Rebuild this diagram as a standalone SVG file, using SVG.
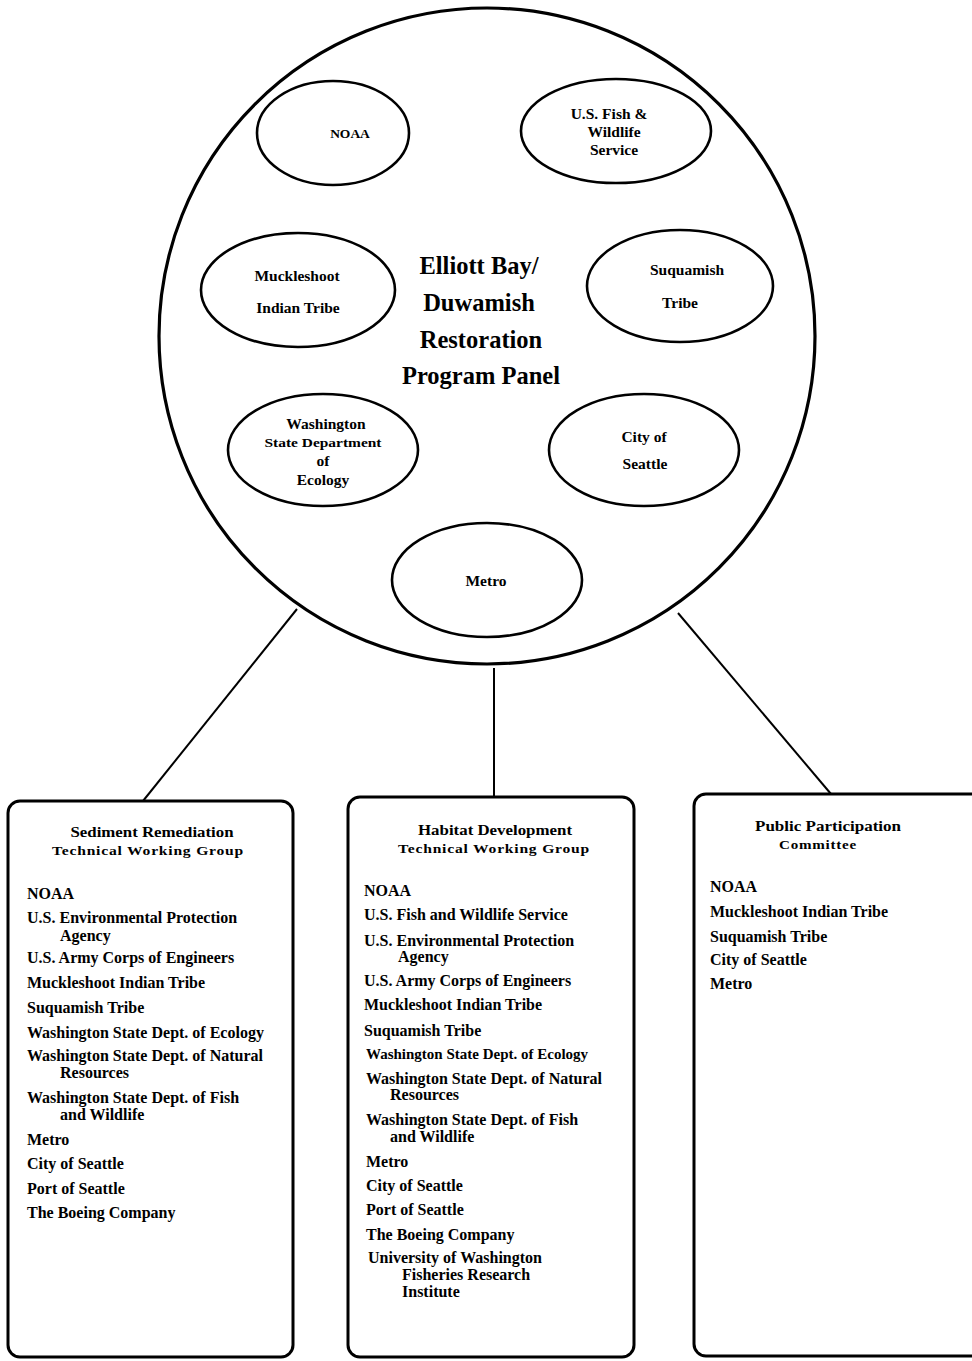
<svg xmlns="http://www.w3.org/2000/svg" width="972" height="1361" viewBox="0 0 972 1361">
<style>
.bg{fill:#fff}
.shape{fill:none;stroke:#000}
.big{stroke-width:3.2}
.ell{stroke-width:2.6}
.box{stroke-width:3}
.conn{stroke:#000;stroke-width:2;fill:none}
text{font-family:"Liberation Serif","Times New Roman",serif;font-weight:bold;fill:#000}
.title{font-size:24.5px;text-anchor:middle}
.et{font-size:15.5px;text-anchor:middle}
.hd{font-size:14px;text-anchor:middle}
.sub{font-size:12px;text-anchor:middle;letter-spacing:0.6px}
.it{font-size:16px}
</style>
<rect class="bg" x="0" y="0" width="972" height="1361"/>
<g id="connectors">
<line class="conn" x1="297" y1="609" x2="143" y2="801"/>
<line class="conn" x1="494" y1="668" x2="494" y2="797"/>
<line class="conn" x1="678" y1="613" x2="831" y2="794"/>
</g>
<g id="panel">
<circle class="shape big" cx="487" cy="336" r="328"/>
<text class="title" x="479" y="274">Elliott Bay/</text>
<text class="title" x="479" y="311">Duwamish</text>
<text class="title" x="481" y="348">Restoration</text>
<text class="title" x="481" y="384">Program Panel</text>
</g>
<g id="noaa">
<ellipse class="shape ell" cx="333" cy="133" rx="76" ry="52"/>
<text class="et" x="350" y="138" style="font-size:13.5px">NOAA</text>
</g>
<g id="usfws">
<ellipse class="shape ell" cx="616" cy="131" rx="95" ry="52"/>
<text class="et" x="609" y="119">U.S. Fish &amp;</text>
<text class="et" x="614" y="137">Wildlife</text>
<text class="et" x="614" y="155">Service</text>
</g>
<g id="muckleshoot">
<ellipse class="shape ell" cx="298" cy="290" rx="97" ry="57"/>
<text class="et" x="297" y="281">Muckleshoot</text>
<text class="et" x="298" y="313">Indian Tribe</text>
</g>
<g id="suquamish">
<ellipse class="shape ell" cx="680" cy="286" rx="93" ry="56"/>
<text class="et" x="687" y="275">Suquamish</text>
<text class="et" x="680" y="308">Tribe</text>
</g>
<g id="ecology">
<ellipse class="shape ell" cx="323" cy="450" rx="95" ry="56"/>
<text class="et" x="326" y="429">Washington</text>
<text class="et" x="323" y="447" style="font-size:13px" textLength="117" lengthAdjust="spacingAndGlyphs">State Department</text>
<text class="et" x="323" y="466">of</text>
<text class="et" x="323" y="485">Ecology</text>
</g>
<g id="seattle">
<ellipse class="shape ell" cx="644" cy="450" rx="95" ry="56"/>
<text class="et" x="644" y="442">City of</text>
<text class="et" x="645" y="469">Seattle</text>
</g>
<g id="metro">
<ellipse class="shape ell" cx="487" cy="580" rx="95" ry="57"/>
<text class="et" x="486" y="586">Metro</text>
</g>
<g id="sediment">
<rect class="shape box" x="8" y="801" width="285" height="556" rx="12"/>
<text class="hd" x="152" y="837" textLength="163" lengthAdjust="spacingAndGlyphs">Sediment Remediation</text>
<text class="sub" x="148" y="855" textLength="192" lengthAdjust="spacingAndGlyphs">Technical Working Group</text>
<text class="it" x="27" y="899">NOAA</text>
<text class="it" x="27" y="923">U.S. Environmental Protection</text>
<text class="it" x="60" y="941">Agency</text>
<text class="it" x="27" y="963">U.S. Army Corps of Engineers</text>
<text class="it" x="27" y="988">Muckleshoot Indian Tribe</text>
<text class="it" x="27" y="1013">Suquamish Tribe</text>
<text class="it" x="27" y="1038">Washington State Dept. of Ecology</text>
<text class="it" x="27" y="1061">Washington State Dept. of Natural</text>
<text class="it" x="60" y="1078">Resources</text>
<text class="it" x="27" y="1103">Washington State Dept. of Fish</text>
<text class="it" x="60" y="1120">and Wildlife</text>
<text class="it" x="27" y="1145">Metro</text>
<text class="it" x="27" y="1169">City of Seattle</text>
<text class="it" x="27" y="1194">Port of Seattle</text>
<text class="it" x="27" y="1218">The Boeing Company</text>
</g>
<g id="habitat">
<rect class="shape box" x="348" y="797" width="286" height="560" rx="12"/>
<text class="hd" x="495" y="835" textLength="154" lengthAdjust="spacingAndGlyphs">Habitat Development</text>
<text class="sub" x="494" y="853" textLength="192" lengthAdjust="spacingAndGlyphs">Technical Working Group</text>
<text class="it" x="364" y="896">NOAA</text>
<text class="it" x="364" y="920">U.S. Fish and Wildlife Service</text>
<text class="it" x="364" y="946">U.S. Environmental Protection</text>
<text class="it" x="398" y="962">Agency</text>
<text class="it" x="364" y="986">U.S. Army Corps of Engineers</text>
<text class="it" x="364" y="1010">Muckleshoot Indian Tribe</text>
<text class="it" x="364" y="1036">Suquamish Tribe</text>
<text class="it" x="366" y="1059" style="font-size:15px">Washington State Dept. of Ecology</text>
<text class="it" x="366" y="1084">Washington State Dept. of Natural</text>
<text class="it" x="390" y="1100">Resources</text>
<text class="it" x="366" y="1125">Washington State Dept. of Fish</text>
<text class="it" x="390" y="1142">and Wildlife</text>
<text class="it" x="366" y="1167">Metro</text>
<text class="it" x="366" y="1191">City of Seattle</text>
<text class="it" x="366" y="1215">Port of Seattle</text>
<text class="it" x="366" y="1240">The Boeing Company</text>
<text class="it" x="368" y="1263">University of Washington</text>
<text class="it" x="402" y="1280">Fisheries Research</text>
<text class="it" x="402" y="1297">Institute</text>
</g>
<g id="public">
<rect class="shape box" x="694" y="794" width="300" height="562" rx="12"/>
<text class="hd" x="828" y="831" textLength="146" lengthAdjust="spacingAndGlyphs">Public Participation</text>
<text class="sub" x="818" y="849" textLength="78" lengthAdjust="spacingAndGlyphs">Committee</text>
<text class="it" x="710" y="892">NOAA</text>
<text class="it" x="710" y="917">Muckleshoot Indian Tribe</text>
<text class="it" x="710" y="942">Suquamish Tribe</text>
<text class="it" x="710" y="965">City of Seattle</text>
<text class="it" x="710" y="989">Metro</text>
</g>
</svg>
